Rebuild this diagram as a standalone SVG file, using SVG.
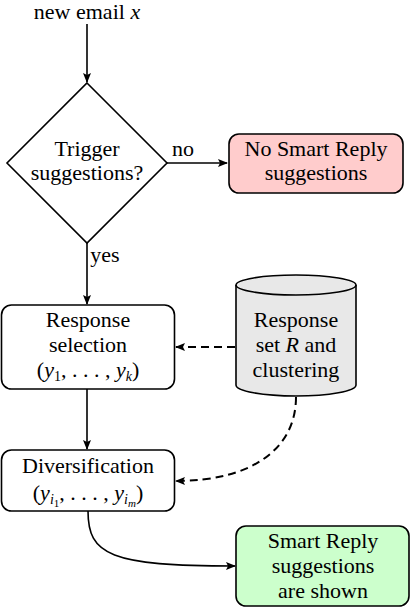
<svg xmlns="http://www.w3.org/2000/svg" width="412" height="608" viewBox="0 0 412 608">
<defs>
<marker id="ah" markerWidth="10" markerHeight="8" refX="9" refY="4" orient="auto" markerUnits="userSpaceOnUse">
<path d="M0,0 L10,4 L0,8 L2,4 Z" fill="#000"/>
</marker>
<style>
text{font-family:"Liberation Serif","Times New Roman",Times,"Nimbus Roman","Tinos","DejaVu Serif","Noto Serif",serif;font-size:22px;fill:#000;text-anchor:middle}
.i{font-style:italic}
.s{font-size:14px}
.ss{font-size:11px}
.box{stroke:#000;stroke-width:1.6}
.c{fill:none;stroke:#000;stroke-width:1.6}
.d{stroke-dasharray:8,5;stroke-width:2}
</style>
</defs>
<g id="connectors">
<path class="c" d="M87,24 L87,82" marker-end="url(#ah)"/>
<path class="c" d="M167,163 L227,163" marker-end="url(#ah)"/>
<path class="c" d="M87,243 L87,304" marker-end="url(#ah)"/>
<path class="c" d="M87,389 L87,449" marker-end="url(#ah)"/>
<path class="c d" d="M235,347 L176,347" marker-end="url(#ah)"/>
<path class="c d" d="M296,397 C296,450 250,481 176,481" marker-end="url(#ah)"/>
<path class="c" d="M88,511 C88,555 110,566 235,566" marker-end="url(#ah)"/>
<text x="183" y="156">no</text>
<text x="105" y="262">yes</text>
</g>
<g id="start">
<text x="87" y="19">new email <tspan class="i">x</tspan></text>
</g>
<g id="trigger">
<path class="box" fill="#fff" d="M87,83 L167,163 L87,243 L7,163 Z"/>
<text x="87" y="156">Trigger</text>
<text x="87" y="180">suggestions?</text>
</g>
<g id="nosuggest">
<rect class="box" x="229" y="134" width="174" height="59" rx="10" fill="#ffcccc"/>
<text x="316" y="156">No Smart Reply</text>
<text x="316" y="180">suggestions</text>
</g>
<g id="selection">
<rect class="box" x="1.5" y="305" width="173" height="84" rx="10" fill="#fff"/>
<text x="88" y="327">Response</text>
<text x="88" y="352">selection</text>
<text x="88" y="377">(<tspan class="i">y</tspan><tspan class="s" dy="4">1</tspan><tspan dy="-4">, . . . , </tspan><tspan class="i">y</tspan><tspan class="s i" dy="4">k</tspan><tspan dy="-4">)</tspan></text>
</g>
<g id="responseset">
<path class="box" fill="#e8e8e8" d="M236,285 L236,385 A60,11 0 0 0 356,385 L356,285 A60,10 0 0 0 236,285 Z"/>
<path class="box" fill="none" d="M236,285 A60,10 0 0 0 356,285"/>
<text x="296" y="327">Response</text>
<text x="296" y="352">set <tspan class="i">R</tspan> and</text>
<text x="296" y="377">clustering</text>
</g>
<g id="diversification">
<rect class="box" x="1.5" y="450" width="173" height="61" rx="10" fill="#fff"/>
<text x="88" y="473">Diversification</text>
<text x="88" y="500">(<tspan class="i">y</tspan><tspan class="s i" dy="4">i</tspan><tspan class="ss" dy="3">1</tspan><tspan dy="-7">, . . . , </tspan><tspan class="i">y</tspan><tspan class="s i" dy="4">i</tspan><tspan class="ss i" dy="3">m</tspan><tspan dy="-7">)</tspan></text>
</g>
<g id="shown">
<rect class="box" x="236" y="526" width="173" height="80" rx="10" fill="#ccffcc"/>
<text x="323" y="548">Smart Reply</text>
<text x="323" y="573">suggestions</text>
<text x="323" y="598">are shown</text>
</g>
</svg>
